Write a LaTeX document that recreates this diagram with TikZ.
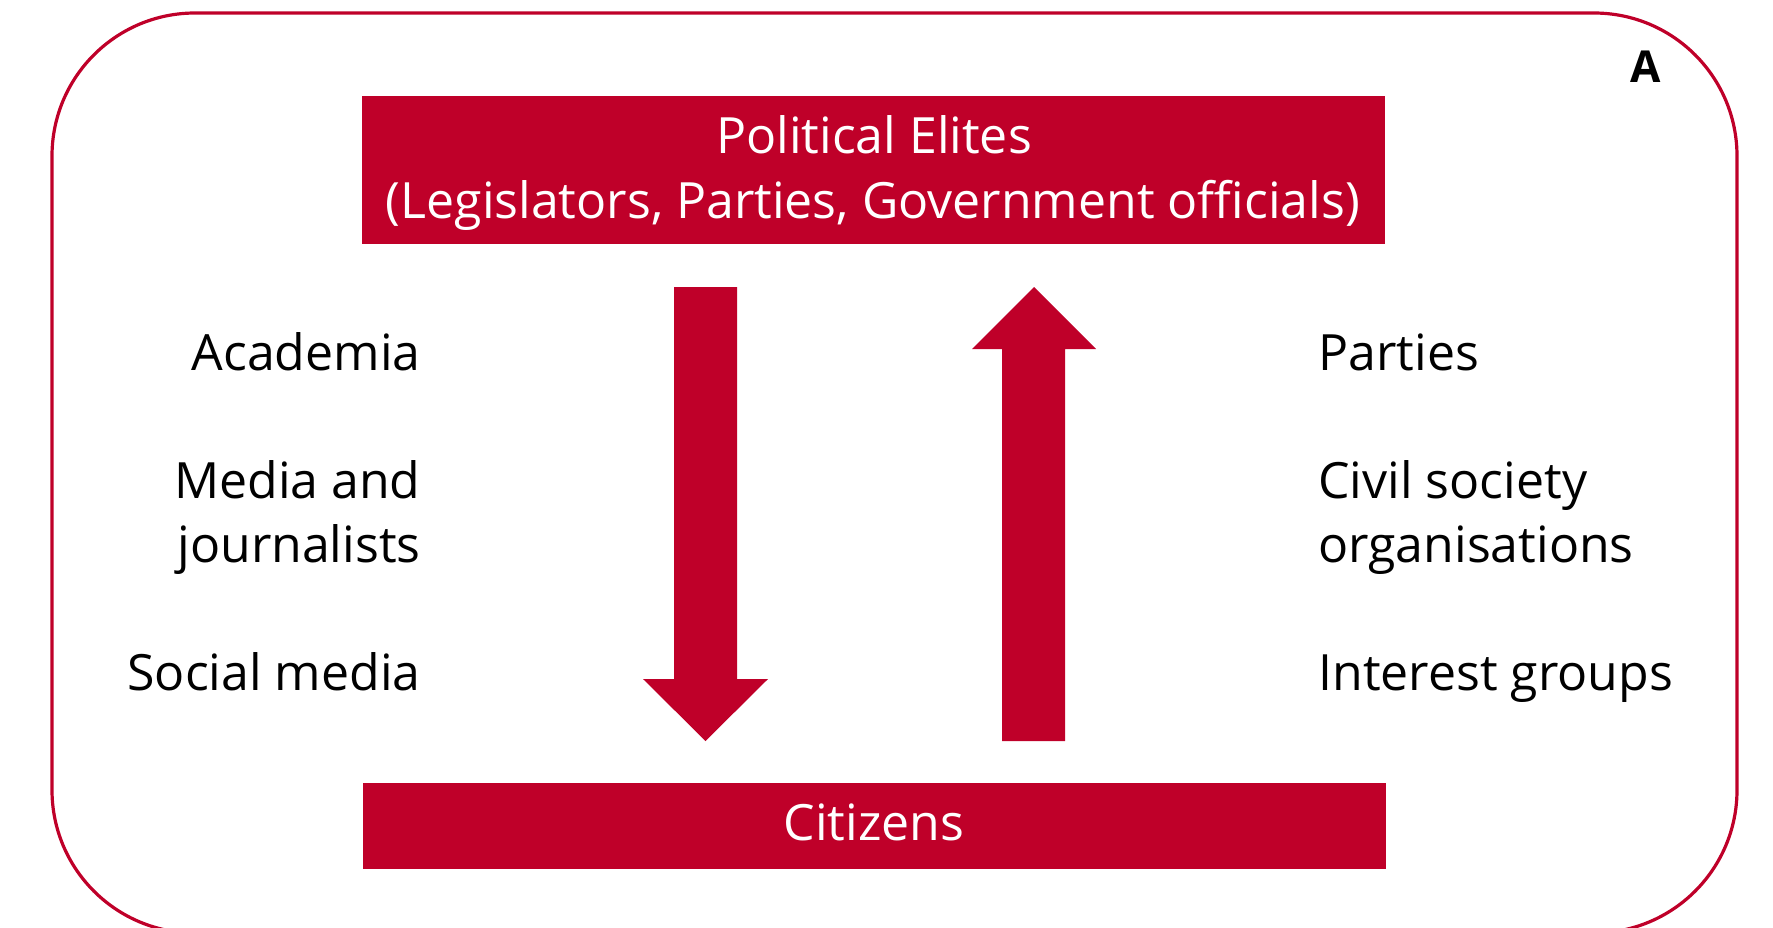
\documentclass[tikz,border=0pt]{standalone}
\usepackage{fontspec}
\setmainfont{Open Sans}
\definecolor{elitered}{RGB}{191,0,41}
\tikzset{
  frame/.style={draw=elitered, line width=1.6pt, rounded corners=71.5pt},
  redbox/.style={fill=elitered, draw=none, inner sep=0pt, anchor=north west},
  blockarrow/.style={fill=elitered, draw=none},
  boxtext/.style={text=white, inner sep=0pt, anchor=base, font=\fontsize{25}{30}\selectfont},
  lefttext/.style={text=black, inner sep=0pt, anchor=base east, font=\fontsize{25}{30}\selectfont},
  righttext/.style={text=black, inner sep=0pt, anchor=base west, font=\fontsize{25}{30}\selectfont},
  tag/.style={text=black, inner sep=0pt, font=\fontsize{22}{26}\selectfont\bfseries}
}
\begin{document}
\begin{tikzpicture}[x=0.5pt, y=-0.5pt]
  \useasboundingbox (0,0) rectangle (1773,927);
  % outer frame, running past the lower edge
  \begin{scope}
    \clip (0,0) rectangle (1773,927);
    \draw[frame] (52,13) rectangle (1737,933);
  \end{scope}
  \node[tag] (tagA) at (1646,67) {A};

  % top and bottom boxes
  \node[redbox, minimum width=511.5pt, minimum height=74pt] (elites) at (362,96) {};
  \node[redbox, minimum width=511.5pt, minimum height=43pt] (citizens) at (363,783) {};
  \node[boxtext] (elitesA) at (874,153) {Political Elites};
  \node[boxtext] (elitesB) at (873,218) {(Legislators, Parties, Government officials)};
  \node[boxtext] (citizensT) at (874,840) {Citizens};

  % downward block arrow
  \coordinate (dtop) at (705.5,287);
  \coordinate (dtip) at (705.5,741);
  \fill[blockarrow] (674,287) -- (737,287) -- (737,679) -- (768,679) -- (dtip)
    -- (643,679) -- (674,679) -- cycle;

  % upward block arrow
  \coordinate (utip) at (1034,287);
  \fill[blockarrow] (utip) -- (1096,349) -- (1065,349) -- (1065,741) -- (1002,741)
    -- (1002,349) -- (972,349) -- cycle;

  % left column
  \node[lefttext] (acad) at (421,370) {Academia};
  \node[lefttext] (media1) at (421,498) {Media and};
  \node[lefttext] (media2) at (421,562) {journalists};
  \node[lefttext] (social) at (421,690) {Social media};

  % right column
  \node[righttext] (parties) at (1318,370) {Parties};
  \node[righttext] (civil1) at (1318,498) {Civil society};
  \node[righttext] (civil2) at (1318,562) {organisations};
  \node[righttext] (interest) at (1318,690) {Interest groups};
\end{tikzpicture}
\end{document}
